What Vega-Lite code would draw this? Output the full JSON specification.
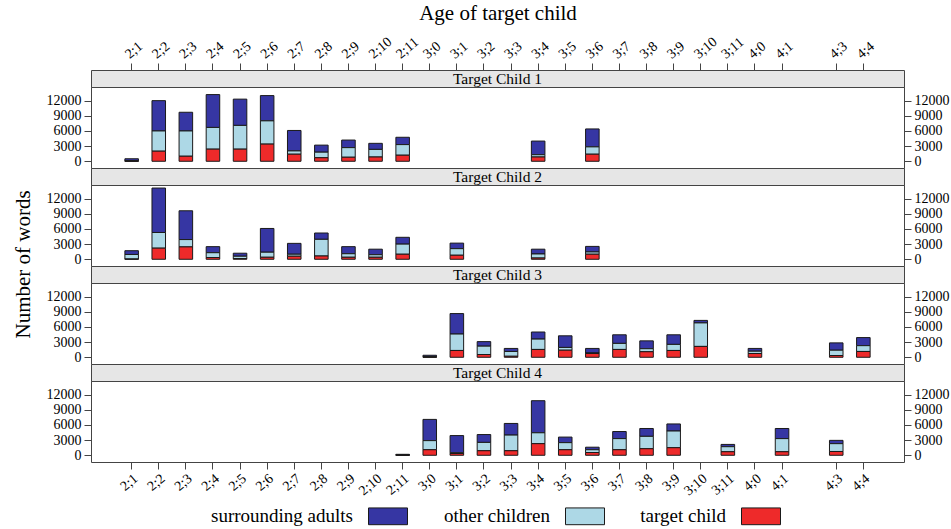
{
  "$schema": "https://vega.github.io/schema/vega-lite/v6.json",
  "padding": {"left": 12, "top": 1, "right": 0, "bottom": 0},
  "config": {
    "font": "Liberation Serif",
    "view": {"stroke": "#444", "strokeWidth": 1},
    "axis": {"labelFont": "Liberation Serif", "titleFont": "Liberation Serif", "labelColor": "#000", "titleColor": "#000", "tickColor": "#444", "grid": false, "domain": false},
    "legend": {"labelFont": "Liberation Serif", "labelColor": "#000"},
    "title": {"font": "Liberation Serif", "color": "#000"}
  },
  "data": {"values": [
    {"child":"Target Child 1","age":"2;1","target child":40,"other children":60,"surrounding adults":400},
    {"child":"Target Child 1","age":"2;2","target child":2000,"other children":4000,"surrounding adults":6000},
    {"child":"Target Child 1","age":"2;3","target child":1000,"other children":5000,"surrounding adults":3700},
    {"child":"Target Child 1","age":"2;4","target child":2400,"other children":4300,"surrounding adults":6500},
    {"child":"Target Child 1","age":"2;5","target child":2400,"other children":4700,"surrounding adults":5200},
    {"child":"Target Child 1","age":"2;6","target child":3400,"other children":4600,"surrounding adults":5000},
    {"child":"Target Child 1","age":"2;7","target child":1400,"other children":650,"surrounding adults":4050},
    {"child":"Target Child 1","age":"2;8","target child":700,"other children":1100,"surrounding adults":1400},
    {"child":"Target Child 1","age":"2;9","target child":800,"other children":1900,"surrounding adults":1500},
    {"child":"Target Child 1","age":"2;10","target child":850,"other children":1500,"surrounding adults":1200},
    {"child":"Target Child 1","age":"2;11","target child":1200,"other children":2100,"surrounding adults":1450},
    {"child":"Target Child 1","age":"3;4","target child":850,"other children":450,"surrounding adults":2700},
    {"child":"Target Child 1","age":"3;6","target child":1400,"other children":1450,"surrounding adults":3550},
    {"child":"Target Child 2","age":"2;1","target child":50,"other children":900,"surrounding adults":750},
    {"child":"Target Child 2","age":"2;2","target child":2200,"other children":3100,"surrounding adults":8800},
    {"child":"Target Child 2","age":"2;3","target child":2450,"other children":1450,"surrounding adults":5700},
    {"child":"Target Child 2","age":"2;4","target child":350,"other children":950,"surrounding adults":1200},
    {"child":"Target Child 2","age":"2;5","target child":150,"other children":450,"surrounding adults":600},
    {"child":"Target Child 2","age":"2;6","target child":400,"other children":1000,"surrounding adults":4700},
    {"child":"Target Child 2","age":"2;7","target child":600,"other children":400,"surrounding adults":2150},
    {"child":"Target Child 2","age":"2;8","target child":650,"other children":3300,"surrounding adults":1250},
    {"child":"Target Child 2","age":"2;9","target child":400,"other children":700,"surrounding adults":1400},
    {"child":"Target Child 2","age":"2;10","target child":400,"other children":500,"surrounding adults":1100},
    {"child":"Target Child 2","age":"2;11","target child":1000,"other children":2000,"surrounding adults":1350},
    {"child":"Target Child 2","age":"3;1","target child":800,"other children":1300,"surrounding adults":1100},
    {"child":"Target Child 2","age":"3;4","target child":250,"other children":800,"surrounding adults":950},
    {"child":"Target Child 2","age":"3;6","target child":1000,"other children":450,"surrounding adults":1100},
    {"child":"Target Child 3","age":"3;0","target child":50,"other children":50,"surrounding adults":300},
    {"child":"Target Child 3","age":"3;1","target child":1350,"other children":3250,"surrounding adults":4050},
    {"child":"Target Child 3","age":"3;2","target child":550,"other children":1650,"surrounding adults":900},
    {"child":"Target Child 3","age":"3;3","target child":200,"other children":950,"surrounding adults":600},
    {"child":"Target Child 3","age":"3;4","target child":1550,"other children":2050,"surrounding adults":1400},
    {"child":"Target Child 3","age":"3;5","target child":1400,"other children":550,"surrounding adults":2300},
    {"child":"Target Child 3","age":"3;6","target child":750,"other children":100,"surrounding adults":900},
    {"child":"Target Child 3","age":"3;7","target child":1550,"other children":1200,"surrounding adults":1700},
    {"child":"Target Child 3","age":"3;8","target child":1100,"other children":600,"surrounding adults":1550},
    {"child":"Target Child 3","age":"3;9","target child":1350,"other children":1200,"surrounding adults":1900},
    {"child":"Target Child 3","age":"3;10","target child":2150,"other children":4650,"surrounding adults":500},
    {"child":"Target Child 3","age":"4;0","target child":750,"other children":450,"surrounding adults":550},
    {"child":"Target Child 3","age":"4;3","target child":350,"other children":1050,"surrounding adults":1450},
    {"child":"Target Child 3","age":"4;4","target child":1150,"other children":1150,"surrounding adults":1600},
    {"child":"Target Child 4","age":"2;11","target child":20,"other children":20,"surrounding adults":150},
    {"child":"Target Child 4","age":"3;0","target child":1100,"other children":1800,"surrounding adults":4200},
    {"child":"Target Child 4","age":"3;1","target child":350,"other children":150,"surrounding adults":3400},
    {"child":"Target Child 4","age":"3;2","target child":900,"other children":1650,"surrounding adults":1550},
    {"child":"Target Child 4","age":"3;3","target child":900,"other children":3100,"surrounding adults":2300},
    {"child":"Target Child 4","age":"3;4","target child":2300,"other children":2150,"surrounding adults":6350},
    {"child":"Target Child 4","age":"3;5","target child":1100,"other children":1400,"surrounding adults":1100},
    {"child":"Target Child 4","age":"3;6","target child":550,"other children":550,"surrounding adults":500},
    {"child":"Target Child 4","age":"3;7","target child":1100,"other children":2200,"surrounding adults":1400},
    {"child":"Target Child 4","age":"3;8","target child":1300,"other children":2450,"surrounding adults":1550},
    {"child":"Target Child 4","age":"3;9","target child":1500,"other children":3300,"surrounding adults":1400},
    {"child":"Target Child 4","age":"3;11","target child":700,"other children":1000,"surrounding adults":450},
    {"child":"Target Child 4","age":"4;1","target child":700,"other children":2600,"surrounding adults":2000},
    {"child":"Target Child 4","age":"4;3","target child":750,"other children":1550,"surrounding adults":650}
  ]},
  "title": {"text": "Number of words", "orient": "left", "anchor": "middle", "fontSize": 21, "fontWeight": "normal", "offset": 12},
  "spacing": 0,
  "bounds": "flush",
  "vconcat": [
    {
      "width": 813, "height": 17,
      "view": {"fill": "#e6e6e6", "stroke": "#444"},
      "layer": [
        {"data": {"values": [{"panel": "Target Child 1"}]}, "mark": {"type": "text", "fontSize": 15.5}, "encoding": {"text": {"field": "panel", "type": "nominal"}}},
        {"mark": {"type": "tick", "opacity": 0},
         "encoding": {"x": {"field": "age", "type": "ordinal",
           "scale": {"type": "band", "domain": ["2;1","2;2","2;3","2;4","2;5","2;6","2;7","2;8","2;9","2;10","2;11","3;0","3;1","3;2","3;3","3;4","3;5","3;6","3;7","3;8","3;9","3;10","3;11","4;0","4;1","4;2","4;3","4;4"], "paddingInner": 0, "paddingOuter": 1.44},
           "axis": {"orient": "top", "values": ["2;1","2;2","2;3","2;4","2;5","2;6","2;7","2;8","2;9","2;10","2;11","3;0","3;1","3;2","3;3","3;4","3;5","3;6","3;7","3;8","3;9","3;10","3;11","4;0","4;1","4;3","4;4"], "labelAngle": -40, "title": "Age of target child", "titleFontSize": 21, "titleFontWeight": "normal", "titlePadding": 11, "tickSize": 7, "labelFontSize": 14, "labelPadding": 2}}}}
      ]
    },
    {
      "width": 813, "height": 81,
      "transform": [
        {"filter": "datum.child == 'Target Child 1'"},
        {"fold": ["surrounding adults", "other children", "target child"], "as": ["who", "words"]},
        {"calculate": "indexof(['target child','other children','surrounding adults'], datum.who)", "as": "stackrank"}
      ],
      "layer": [
        {"mark": {"type": "bar", "width": {"band": 0.5}, "stroke": "#1a1a1a", "strokeWidth": 1},
         "encoding": {
           "x": {"field": "age", "type": "ordinal", "scale": {"type": "band", "domain": ["2;1","2;2","2;3","2;4","2;5","2;6","2;7","2;8","2;9","2;10","2;11","3;0","3;1","3;2","3;3","3;4","3;5","3;6","3;7","3;8","3;9","3;10","3;11","4;0","4;1","4;2","4;3","4;4"], "paddingInner": 0, "paddingOuter": 1.44}, "axis": null},
           "y": {"field": "words", "type": "quantitative", "stack": "zero", "scale": {"domain": [-1330, 14700], "nice": false, "zero": false}, "axis": {"orient": "left", "values": [0, 3000, 6000, 9000, 12000], "format": "d", "title": null, "tickSize": 7, "labelFontSize": 14, "labelPadding": 3}},
           "color": {"field": "who", "type": "nominal", "scale": {"domain": ["surrounding adults", "other children", "target child"], "range": ["#3636a3", "#add8e6", "#ee2a2a"]},
             "legend": {"title": null, "orient": "none", "legendX": 277, "legendY": 426, "direction": "horizontal", "symbolType": "M-1,-0.43L1,-0.43L1,0.43L-1,0.43Z", "symbolSize": 1521, "symbolStrokeColor": "#1a1a1a", "symbolStrokeWidth": 1, "symbolOpacity": 1, "labelAlign": "right", "labelOffset": -55, "labelFontSize": 19, "columnPadding": 33}},
           "order": {"field": "stackrank", "type": "quantitative"}
         }},
        {"mark": {"type": "rule", "opacity": 0},
         "encoding": {"y": {"datum": 0, "type": "quantitative", "scale": {"domain": [-1330, 14700], "nice": false, "zero": false}, "axis": {"orient": "right", "values": [0, 3000, 6000, 9000, 12000], "format": "d", "title": null, "tickSize": 7, "labelFontSize": 14, "labelPadding": 3}}}}
      ],
      "resolve": {"axis": {"y": "independent"}}
    },
    {
      "width": 813, "height": 17,
      "view": {"fill": "#e6e6e6", "stroke": "#444"},
      "data": {"values": [{"panel": "Target Child 2"}]},
      "mark": {"type": "text", "fontSize": 15.5},
      "encoding": {"text": {"field": "panel", "type": "nominal"}}
    },
    {
      "width": 813, "height": 81,
      "transform": [
        {"filter": "datum.child == 'Target Child 2'"},
        {"fold": ["surrounding adults", "other children", "target child"], "as": ["who", "words"]},
        {"calculate": "indexof(['target child','other children','surrounding adults'], datum.who)", "as": "stackrank"}
      ],
      "layer": [
        {"mark": {"type": "bar", "width": {"band": 0.5}, "stroke": "#1a1a1a", "strokeWidth": 1},
         "encoding": {
           "x": {"field": "age", "type": "ordinal", "scale": {"type": "band", "domain": ["2;1","2;2","2;3","2;4","2;5","2;6","2;7","2;8","2;9","2;10","2;11","3;0","3;1","3;2","3;3","3;4","3;5","3;6","3;7","3;8","3;9","3;10","3;11","4;0","4;1","4;2","4;3","4;4"], "paddingInner": 0, "paddingOuter": 1.44}, "axis": null},
           "y": {"field": "words", "type": "quantitative", "stack": "zero", "scale": {"domain": [-1330, 14700], "nice": false, "zero": false}, "axis": {"orient": "left", "values": [0, 3000, 6000, 9000, 12000], "format": "d", "title": null, "tickSize": 7, "labelFontSize": 14, "labelPadding": 3}},
           "color": {"field": "who", "type": "nominal", "scale": {"domain": ["surrounding adults", "other children", "target child"], "range": ["#3636a3", "#add8e6", "#ee2a2a"]},
             "legend": {"title": null, "orient": "none", "legendX": 277, "legendY": 426, "direction": "horizontal", "symbolType": "M-1,-0.43L1,-0.43L1,0.43L-1,0.43Z", "symbolSize": 1521, "symbolStrokeColor": "#1a1a1a", "symbolStrokeWidth": 1, "symbolOpacity": 1, "labelAlign": "right", "labelOffset": -55, "labelFontSize": 19, "columnPadding": 33}},
           "order": {"field": "stackrank", "type": "quantitative"}
         }},
        {"mark": {"type": "rule", "opacity": 0},
         "encoding": {"y": {"datum": 0, "type": "quantitative", "scale": {"domain": [-1330, 14700], "nice": false, "zero": false}, "axis": {"orient": "right", "values": [0, 3000, 6000, 9000, 12000], "format": "d", "title": null, "tickSize": 7, "labelFontSize": 14, "labelPadding": 3}}}}
      ],
      "resolve": {"axis": {"y": "independent"}}
    },
    {
      "width": 813, "height": 17,
      "view": {"fill": "#e6e6e6", "stroke": "#444"},
      "data": {"values": [{"panel": "Target Child 3"}]},
      "mark": {"type": "text", "fontSize": 15.5},
      "encoding": {"text": {"field": "panel", "type": "nominal"}}
    },
    {
      "width": 813, "height": 81,
      "transform": [
        {"filter": "datum.child == 'Target Child 3'"},
        {"fold": ["surrounding adults", "other children", "target child"], "as": ["who", "words"]},
        {"calculate": "indexof(['target child','other children','surrounding adults'], datum.who)", "as": "stackrank"}
      ],
      "layer": [
        {"mark": {"type": "bar", "width": {"band": 0.5}, "stroke": "#1a1a1a", "strokeWidth": 1},
         "encoding": {
           "x": {"field": "age", "type": "ordinal", "scale": {"type": "band", "domain": ["2;1","2;2","2;3","2;4","2;5","2;6","2;7","2;8","2;9","2;10","2;11","3;0","3;1","3;2","3;3","3;4","3;5","3;6","3;7","3;8","3;9","3;10","3;11","4;0","4;1","4;2","4;3","4;4"], "paddingInner": 0, "paddingOuter": 1.44}, "axis": null},
           "y": {"field": "words", "type": "quantitative", "stack": "zero", "scale": {"domain": [-1330, 14700], "nice": false, "zero": false}, "axis": {"orient": "left", "values": [0, 3000, 6000, 9000, 12000], "format": "d", "title": null, "tickSize": 7, "labelFontSize": 14, "labelPadding": 3}},
           "color": {"field": "who", "type": "nominal", "scale": {"domain": ["surrounding adults", "other children", "target child"], "range": ["#3636a3", "#add8e6", "#ee2a2a"]},
             "legend": {"title": null, "orient": "none", "legendX": 277, "legendY": 426, "direction": "horizontal", "symbolType": "M-1,-0.43L1,-0.43L1,0.43L-1,0.43Z", "symbolSize": 1521, "symbolStrokeColor": "#1a1a1a", "symbolStrokeWidth": 1, "symbolOpacity": 1, "labelAlign": "right", "labelOffset": -55, "labelFontSize": 19, "columnPadding": 33}},
           "order": {"field": "stackrank", "type": "quantitative"}
         }},
        {"mark": {"type": "rule", "opacity": 0},
         "encoding": {"y": {"datum": 0, "type": "quantitative", "scale": {"domain": [-1330, 14700], "nice": false, "zero": false}, "axis": {"orient": "right", "values": [0, 3000, 6000, 9000, 12000], "format": "d", "title": null, "tickSize": 7, "labelFontSize": 14, "labelPadding": 3}}}}
      ],
      "resolve": {"axis": {"y": "independent"}}
    },
    {
      "width": 813, "height": 17,
      "view": {"fill": "#e6e6e6", "stroke": "#444"},
      "data": {"values": [{"panel": "Target Child 4"}]},
      "mark": {"type": "text", "fontSize": 15.5},
      "encoding": {"text": {"field": "panel", "type": "nominal"}}
    },
    {
      "width": 813, "height": 81,
      "transform": [
        {"filter": "datum.child == 'Target Child 4'"},
        {"fold": ["surrounding adults", "other children", "target child"], "as": ["who", "words"]},
        {"calculate": "indexof(['target child','other children','surrounding adults'], datum.who)", "as": "stackrank"}
      ],
      "layer": [
        {"mark": {"type": "bar", "width": {"band": 0.5}, "stroke": "#1a1a1a", "strokeWidth": 1},
         "encoding": {
           "x": {"field": "age", "type": "ordinal", "scale": {"type": "band", "domain": ["2;1","2;2","2;3","2;4","2;5","2;6","2;7","2;8","2;9","2;10","2;11","3;0","3;1","3;2","3;3","3;4","3;5","3;6","3;7","3;8","3;9","3;10","3;11","4;0","4;1","4;2","4;3","4;4"], "paddingInner": 0, "paddingOuter": 1.44},
             "axis": {"orient": "bottom", "values": ["2;1","2;2","2;3","2;4","2;5","2;6","2;7","2;8","2;9","2;10","2;11","3;0","3;1","3;2","3;3","3;4","3;5","3;6","3;7","3;8","3;9","3;10","3;11","4;0","4;1","4;3","4;4"], "labelAngle": -40, "title": null, "tickSize": 7, "labelFontSize": 14, "labelPadding": 2}},
           "y": {"field": "words", "type": "quantitative", "stack": "zero", "scale": {"domain": [-1330, 14700], "nice": false, "zero": false}, "axis": {"orient": "left", "values": [0, 3000, 6000, 9000, 12000], "format": "d", "title": null, "tickSize": 7, "labelFontSize": 14, "labelPadding": 3}},
           "color": {"field": "who", "type": "nominal", "scale": {"domain": ["surrounding adults", "other children", "target child"], "range": ["#3636a3", "#add8e6", "#ee2a2a"]},
             "legend": {"title": null, "orient": "none", "legendX": 277, "legendY": 426, "direction": "horizontal", "symbolType": "M-1,-0.43L1,-0.43L1,0.43L-1,0.43Z", "symbolSize": 1521, "symbolStrokeColor": "#1a1a1a", "symbolStrokeWidth": 1, "symbolOpacity": 1, "labelAlign": "right", "labelOffset": -55, "labelFontSize": 19, "columnPadding": 33}},
           "order": {"field": "stackrank", "type": "quantitative"}
         }},
        {"mark": {"type": "rule", "opacity": 0},
         "encoding": {"y": {"datum": 0, "type": "quantitative", "scale": {"domain": [-1330, 14700], "nice": false, "zero": false}, "axis": {"orient": "right", "values": [0, 3000, 6000, 9000, 12000], "format": "d", "title": null, "tickSize": 7, "labelFontSize": 14, "labelPadding": 3}}}}
      ],
      "resolve": {"axis": {"y": "independent"}}
    }
  ]
}
